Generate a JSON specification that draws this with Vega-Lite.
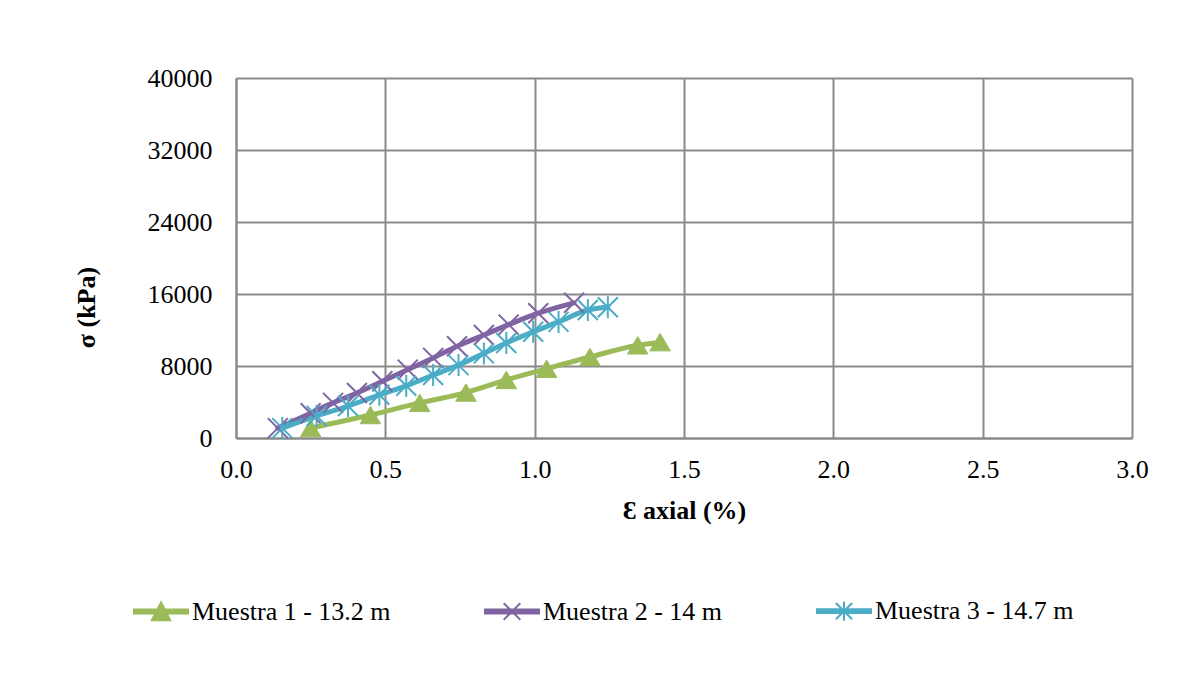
{
  "$schema": "https://vega.github.io/schema/vega-lite/v6.json",
  "width": 896,
  "height": 360,
  "autosize": {"type": "none"},
  "padding": {"left": 236, "top": 78, "right": 54, "bottom": 239},
  "background": "white",
  "config": {
    "font": "Liberation Serif",
    "view": {"stroke": null}
  },
  "data": {
    "values": [
      {"serie": "Muestra 1 - 13.2 m", "deformacion": 0.25, "esfuerzo": 1100},
      {"serie": "Muestra 1 - 13.2 m", "deformacion": 0.45, "esfuerzo": 2550},
      {"serie": "Muestra 1 - 13.2 m", "deformacion": 0.615, "esfuerzo": 3900},
      {"serie": "Muestra 1 - 13.2 m", "deformacion": 0.77, "esfuerzo": 5050},
      {"serie": "Muestra 1 - 13.2 m", "deformacion": 0.905, "esfuerzo": 6450},
      {"serie": "Muestra 1 - 13.2 m", "deformacion": 1.04, "esfuerzo": 7700},
      {"serie": "Muestra 1 - 13.2 m", "deformacion": 1.185, "esfuerzo": 9000},
      {"serie": "Muestra 1 - 13.2 m", "deformacion": 1.345, "esfuerzo": 10300},
      {"serie": "Muestra 1 - 13.2 m", "deformacion": 1.42, "esfuerzo": 10650},
      {"serie": "Muestra 2 - 14 m", "deformacion": 0.14, "esfuerzo": 1100},
      {"serie": "Muestra 2 - 14 m", "deformacion": 0.25, "esfuerzo": 2750},
      {"serie": "Muestra 2 - 14 m", "deformacion": 0.325, "esfuerzo": 3900},
      {"serie": "Muestra 2 - 14 m", "deformacion": 0.405, "esfuerzo": 5000},
      {"serie": "Muestra 2 - 14 m", "deformacion": 0.49, "esfuerzo": 6300},
      {"serie": "Muestra 2 - 14 m", "deformacion": 0.575, "esfuerzo": 7600},
      {"serie": "Muestra 2 - 14 m", "deformacion": 0.66, "esfuerzo": 8900},
      {"serie": "Muestra 2 - 14 m", "deformacion": 0.74, "esfuerzo": 10200},
      {"serie": "Muestra 2 - 14 m", "deformacion": 0.83, "esfuerzo": 11450},
      {"serie": "Muestra 2 - 14 m", "deformacion": 0.913, "esfuerzo": 12600},
      {"serie": "Muestra 2 - 14 m", "deformacion": 1.012, "esfuerzo": 13870},
      {"serie": "Muestra 2 - 14 m", "deformacion": 1.132, "esfuerzo": 15020},
      {"serie": "Muestra 3 - 14.7 m", "deformacion": 0.155, "esfuerzo": 1100},
      {"serie": "Muestra 3 - 14.7 m", "deformacion": 0.27, "esfuerzo": 2450},
      {"serie": "Muestra 3 - 14.7 m", "deformacion": 0.375, "esfuerzo": 3550},
      {"serie": "Muestra 3 - 14.7 m", "deformacion": 0.48, "esfuerzo": 4800},
      {"serie": "Muestra 3 - 14.7 m", "deformacion": 0.57, "esfuerzo": 5800},
      {"serie": "Muestra 3 - 14.7 m", "deformacion": 0.66, "esfuerzo": 7000},
      {"serie": "Muestra 3 - 14.7 m", "deformacion": 0.745, "esfuerzo": 8100},
      {"serie": "Muestra 3 - 14.7 m", "deformacion": 0.83, "esfuerzo": 9400},
      {"serie": "Muestra 3 - 14.7 m", "deformacion": 0.905, "esfuerzo": 10550},
      {"serie": "Muestra 3 - 14.7 m", "deformacion": 0.995, "esfuerzo": 11800},
      {"serie": "Muestra 3 - 14.7 m", "deformacion": 1.08, "esfuerzo": 12900},
      {"serie": "Muestra 3 - 14.7 m", "deformacion": 1.178, "esfuerzo": 14220},
      {"serie": "Muestra 3 - 14.7 m", "deformacion": 1.245, "esfuerzo": 14530}
    ]
  },
  "encoding": {
    "x": {
      "field": "deformacion",
      "type": "quantitative",
      "scale": {"domain": [0, 3], "nice": false, "zero": false},
      "axis": {
        "values": [0, 0.5, 1, 1.5, 2, 2.5, 3],
        "format": ".1f",
        "grid": true,
        "gridColor": "#8a8a8a",
        "gridWidth": 2,
        "domainColor": "#8a8a8a",
        "domainWidth": 2,
        "ticks": false,
        "labelFontSize": 26,
        "labelColor": "#000000",
        "labelPadding": 18,
        "labelFlush": false,
        "title": "Ɛ axial (%)",
        "titleFontSize": 26,
        "titleFontWeight": "bold",
        "titleColor": "#000000",
        "titleY": 72,
        "titleBaseline": "middle"
      }
    },
    "y": {
      "field": "esfuerzo",
      "type": "quantitative",
      "scale": {"domain": [0, 40000], "nice": false},
      "axis": {
        "values": [0, 8000, 16000, 24000, 32000, 40000],
        "format": "d",
        "grid": true,
        "gridColor": "#8a8a8a",
        "gridWidth": 2,
        "domainColor": "#8a8a8a",
        "domainWidth": 2,
        "ticks": false,
        "labelFontSize": 26,
        "labelColor": "#000000",
        "labelPadding": 24,
        "labelFlush": false,
        "title": "σ (kPa)",
        "titleFontSize": 26,
        "titleFontWeight": "bold",
        "titleColor": "#000000",
        "titleX": -150,
        "titleY": 229,
        "titleBaseline": "middle"
      }
    },
    "color": {
      "field": "serie",
      "type": "nominal",
      "scale": {
        "domain": ["Muestra 1 - 13.2 m", "Muestra 2 - 14 m", "Muestra 3 - 14.7 m"],
        "range": ["#9BBB59", "#8064A2", "#4BACC6"]
      },
      "legend": {
        "orient": "none",
        "legendX": -103,
        "legendY": 505,
        "direction": "horizontal",
        "title": null,
        "labelFontSize": 26,
        "labelColor": "#000000",
        "labelLimit": 0,
        "labelOffset": 3,
        "columnPadding": 90,
        "symbolSize": 2916,
        "symbolStrokeWidth": 2,
        "encode": {
          "symbols": {
            "update": {
              "shape": {"signal": "datum.value === 'Muestra 1 - 13.2 m' ? 'M-1,-0.07L1,-0.07L1,0.07L-1,0.07Z M0,-0.34L0.34,0.32L-0.34,0.32Z' : (datum.value === 'Muestra 2 - 14 m' ? 'M-1,-0.07L1,-0.07L1,0.07L-1,0.07Z M-0.31,-0.31L0.31,0.31 M-0.31,0.31L0.31,-0.31' : 'M-1,-0.07L1,-0.07L1,0.07L-1,0.07Z M-0.3,-0.3L0.3,0.3 M-0.3,0.3L0.3,-0.3 M0,-0.36L0,0.36')"},
              "fill": {"signal": "scale('color', datum.value)"},
              "stroke": {"signal": "scale('color', datum.value)"},
              "strokeWidth": {"value": 2},
              "opacity": {"value": 1}
            }
          }
        }
      }
    }
  },
  "layer": [
    {
      "mark": {"type": "line", "interpolate": "monotone", "strokeWidth": 5, "strokeCap": "round"}
    },
    {
      "transform": [{"filter": "datum.serie === 'Muestra 1 - 13.2 m'"}],
      "mark": {"type": "point", "filled": true, "size": 420, "shape": "M0,-0.85L1,0.85L-1,0.85Z", "stroke": "#9BBB59", "strokeWidth": 1, "opacity": 1}
    },
    {
      "transform": [{"filter": "datum.serie === 'Muestra 2 - 14 m'"}],
      "mark": {"type": "point", "filled": false, "size": 400, "shape": "M-1,-1L1,1M-1,1L1,-1", "strokeWidth": 2, "opacity": 1}
    },
    {
      "transform": [{"filter": "datum.serie === 'Muestra 3 - 14.7 m'"}],
      "mark": {"type": "point", "filled": false, "size": 400, "shape": "M-1,-1L1,1M-1,1L1,-1M0,-1.1L0,1.1", "strokeWidth": 2, "opacity": 1}
    }
  ]
}
